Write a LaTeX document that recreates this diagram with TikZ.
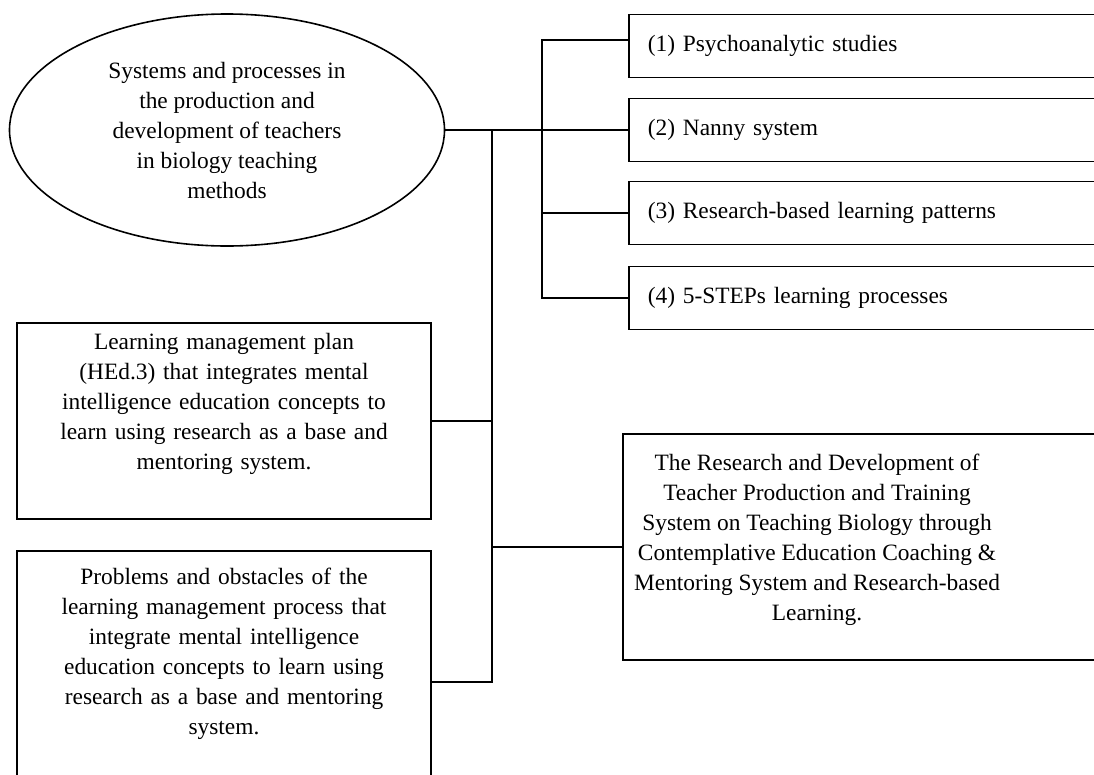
\documentclass[tikz,border=0pt]{standalone}
\usepackage{fontspec}
\setmainfont{Liberation Serif}
\usetikzlibrary{shapes.geometric}
\tikzset{
  every node/.style={font=\fontsize{23.4}{30}\selectfont},
  boxnode/.style={draw, line width=1.6pt, align=center},
  listbox/.style={draw, line width=1.6pt, anchor=west, text width=470pt, inner xsep=19pt, minimum height=63pt, align=left},
  link/.style={line width=1.6pt},
}
\begin{document}
\begin{tikzpicture}[x=1pt, y=-1pt]
		\useasboundingbox (0,0) rectangle (1094,774);
		%%%%%%%%%%%%%
		\node[draw, ellipse, line width=1.6pt, minimum width=435pt, minimum height=232pt, inner sep=0pt, align=center] (goal) at (227,130) {Systems and processes in\\ the production and\\ development of teachers\\ in biology teaching\\ methods};
		%%%%%%%%%%%%%
		\node[listbox] (s1) at (628,46) {(1) Psychoanalytic studies};
		\node[listbox] (s2) at (628,130) {(2) Nanny system};
		\node[listbox] (s3) at (628,213) {(3) Research-based learning patterns};
		\node[listbox] (s4) at (628,298) {(4) 5-STEPs learning processes};
		%%%%%%%%%%%%%
		\node[boxnode, anchor=north, text width=380pt, inner xsep=17pt, inner ysep=10pt, text depth=160pt] (plan) at (224,322) {Learning management plan\\ (HEd.3) that integrates mental\\ intelligence education concepts to\\ learn using research as a base and\\ mentoring system.};
		\node[boxnode, anchor=north, text width=380pt, inner xsep=17pt, inner ysep=17pt, text depth=260pt] (prob) at (224,550) {Problems and obstacles of the\\ learning management process that\\ integrate mental intelligence\\ education concepts to learn using\\ research as a base and mentoring\\ system.};
		\node[draw, line width=1.6pt, anchor=north west, minimum width=520pt, minimum height=226pt] (rdbox) at (622,433) {};
		\node[align=center] (rd) at (817,540) {The Research and Development of\\ Teacher Production and Training\\ System on Teaching Biology through\\ Contemplative Education Coaching \&\\ Mentoring System and Research-based\\ Learning.};
		%%%%%%%%%%%%%
		\coordinate (hub) at (492,130);
		\coordinate (fork) at (542,130);
		\coordinate (foot) at (492,682);
		\draw[link] (goal.east) -- (s2.west);
		\draw[link] ([yshift=6pt]s1.west) -| (fork) |- (s4.west);
		\draw[link] (fork |- s3) -- (s3.west);
		\draw[link] (hub) -- (foot) -- (foot -| prob.east);
		\draw[link] (plan.east) -- (plan.east -| hub);
		\draw[link] (hub |- rdbox) -- (rdbox.west);
		%%%%%%%%%%%%%%
\end{tikzpicture}
\end{document}
